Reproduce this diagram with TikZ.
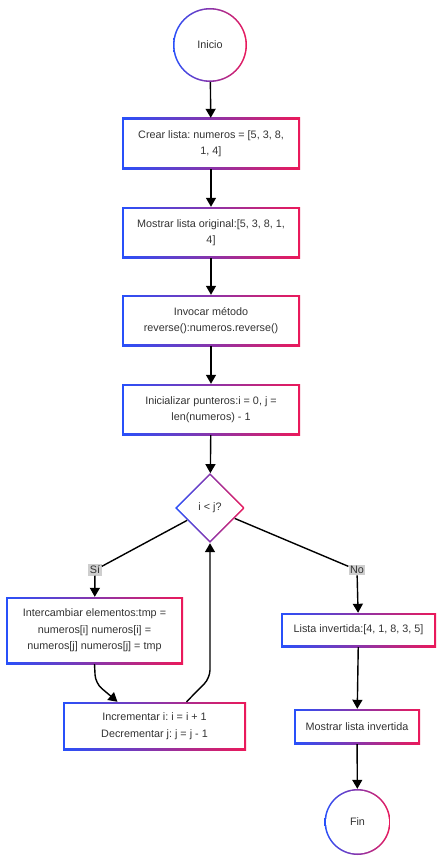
\documentclass[tikz,border=0pt]{standalone}
\usepackage{fontspec}
\setmainfont{Liberation Sans}
\usepackage{tikz}
\usetikzlibrary{positioning, arrows.meta, shapes, calc}
\usepackage{xcolor}
\definecolor{bordL}{RGB}{40,80,250}
\definecolor{bordR}{RGB}{235,25,90}
\definecolor{txtgray}{RGB}{51,51,51}
\definecolor{lblgray}{RGB}{206,206,206}
\frenchspacing

\tikzset{
  base/.style={font=\fontsize{10.8}{16.5}\selectfont, text=txtgray, align=center, inner sep=0pt},
  proc/.style={base, rectangle, minimum width=178pt, minimum height=51pt,
    path picture={
      \shade[left color=bordL, right color=bordR] (path picture bounding box.south west) rectangle (path picture bounding box.north east);
      \fill[white] ([shift={(1.6pt,1.6pt)}]path picture bounding box.south west) rectangle ([shift={(-1.6pt,-1.6pt)}]path picture bounding box.north east);
    }},
  term/.style={base, circle, minimum size=#1,
    path picture={
      \shade[left color=bordL, right color=bordR] (path picture bounding box.south west) rectangle (path picture bounding box.north east);
      \fill[white] let \p1=(path picture bounding box.east), \p2=(path picture bounding box.center) in (\p2) circle[radius=\x1-\x2-1.6pt];
    }},
  decision/.style={base, diamond, minimum width=70pt, minimum height=70pt,
    path picture={
      \shade[left color=bordL, right color=bordR] (path picture bounding box.south west) rectangle (path picture bounding box.north east);
      \fill[white] ([yshift=-2.3pt]path picture bounding box.north) -- ([xshift=-2.3pt]path picture bounding box.east) -- ([yshift=2.3pt]path picture bounding box.south) -- ([xshift=2.3pt]path picture bounding box.west) -- cycle;
    }},
  lbl/.style={base, fill=lblgray, inner sep=1.5pt},
  link/.style={line width=1.4pt, black},
  flow/.style={link, -{Triangle[length=9pt,width=10pt]}}
}

\begin{document}
\begin{tikzpicture}[x=1pt, y=-1pt]
\useasboundingbox (0,0) rectangle (442,864);

% main column
\node[term=74pt] (start) at (210,45) {Inicio};
\node[proc] (mk) at (211,143.5) {Crear lista: numeros = [5, 3, 8,\\1, 4]};
\node[proc] (orig) at (211,232.5) {Mostrar lista original:[5, 3, 8, 1,\\4]};
\node[proc] (rev) at (211,320.5) {Invocar método\\reverse():numeros.reverse()};
\node[proc] (ptr) at (211,409.5) {Inicializar punteros:i = 0, j =\\len(numeros) - 1};
\node[decision] (cond) at (210,508) {i < j?};

% branch Si
\node[lbl] (si) at (95,570) {Sí};
\node[proc, minimum width=177pt, minimum height=67pt] (swap) at (94.5,630.5) {Intercambiar elementos:tmp =\\numeros[i] numeros[i] =\\numeros[j] numeros[j] = tmp};
\node[proc, minimum width=183pt, minimum height=48pt] (inc) at (154.5,726) {Incrementar i: i = i + 1\\Decrementar j: j = j - 1};
\coordinate (bend) at (210,678);

% branch No
\node[lbl] (no) at (357,570) {No};
\node[proc, minimum width=155pt, minimum height=34pt] (inv) at (358.5,630) {Lista invertida:[4, 1, 8, 3, 5]};
\node[proc, minimum width=126pt, minimum height=35pt] (show) at (357,726.5) {Mostrar lista invertida};
\node[term=66pt] (end) at (357.5,822) {Fin};

% connectors
\draw[flow] (start) -- (mk);
\draw[flow] (mk) -- (orig);
\draw[flow] (orig) -- (rev);
\draw[flow] (rev) -- (ptr);
\draw[flow] (ptr) -- (cond);
\draw[link] (cond) -- (si);
\draw[flow] (si) -- (swap);
\draw[flow, rounded corners=8pt] (swap.south) -- ++(1,19) -- ([xshift=-37pt]inc.north);
\draw[flow, rounded corners=8pt] ([xshift=32pt]inc.north) -- (bend) -- (cond.south);
\draw[link] (cond) -- (no);
\draw[flow] (no) -- (inv);
\draw[flow] (inv) -- (show);
\draw[flow] (show) -- (end);
\end{tikzpicture}
\end{document}
